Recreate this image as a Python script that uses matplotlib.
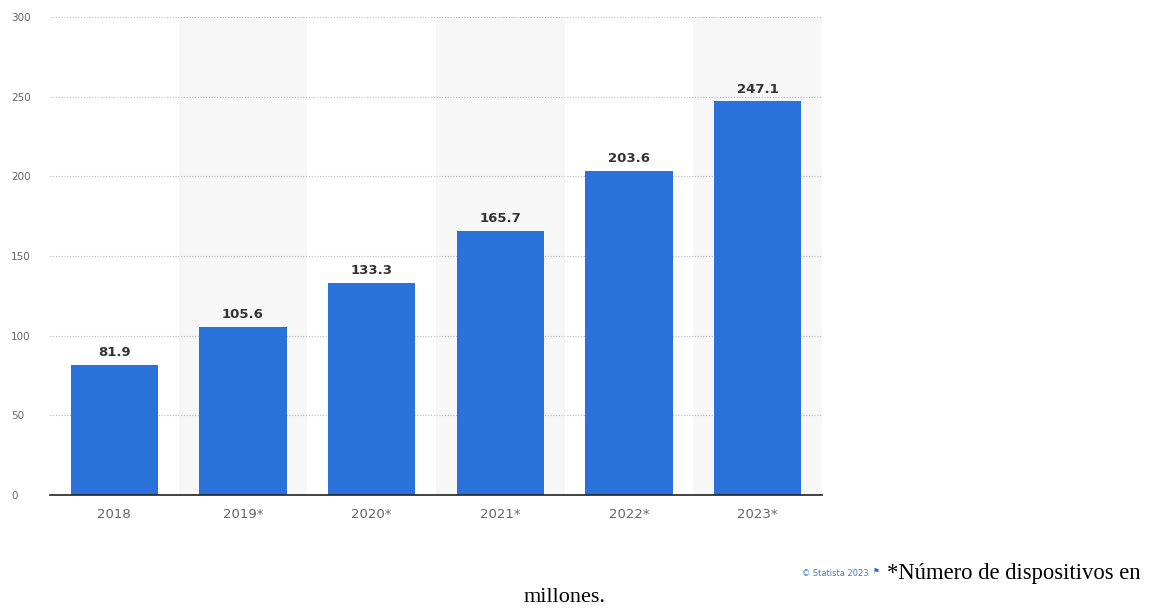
import matplotlib

matplotlib.use('Agg')
import matplotlib.pyplot as plt

years = ['2018', '2019*', '2020*', '2021*', '2022*', '2023*']
devices = [81.9, 105.6, 133.3, 165.7, 203.6, 247.1]
yticks = [0, 50, 100, 150, 200, 250, 300]

bar_color = '#2872d9'
tick_color = '#666666'

fig = plt.figure(figsize=(11.51, 6.09), dpi=100)
ax = fig.add_axes([50 / 1151, 1 - 495 / 609, 772 / 1151, 478 / 609])

x = list(range(len(years)))

# alternating light column bands
for i in x:
    if i % 2 == 1:
        ax.axvspan(i - 0.5, i + 0.5, color='#f7f7f7', zorder=0, lw=0)

bars = ax.bar(x, devices, width=0.68, color=bar_color, zorder=3)
for b, v in zip(bars, devices):
    ax.text(b.get_x() + b.get_width() / 2, v + 3.5, '%.1f' % v, ha='center', va='bottom',
            fontsize=9.5, fontweight='bold', color='#333333', zorder=4)

ax.set_xlim(-0.5, 5.5)
ax.set_ylim(0, 300)
ax.set_yticks(yticks)
ax.set_xticks(x)
ax.set_xticklabels(years)
ax.tick_params(axis='y', length=0, labelsize=7.5, labelcolor=tick_color, pad=28)
ax.tick_params(axis='x', length=0, labelsize=9.5, labelcolor=tick_color, pad=9)
for lbl in ax.get_yticklabels():
    lbl.set_horizontalalignment('left')

ax.grid(axis='y', color='#bbbbbb', linestyle=(0, (1, 1.5)), linewidth=0.8, zorder=1)
for s in ['top', 'right', 'left']:
    ax.spines[s].set_visible(False)
ax.spines['bottom'].set_color('#222222')
ax.spines['bottom'].set_linewidth(1.2)
ax.spines['bottom'].set_zorder(5)

fig.text(802 / 1151, 1 - 574 / 609, '© Statista 2023', fontsize=6, color='#3b7dd8', va='center')
fig.text(873 / 1151, 1 - 572 / 609, '⚑', fontsize=5.5, color='#2a5fc0', va='center')
fig.text(1 - 10 / 1151, 1 - 573 / 609, '*Número de dispositivos en', fontsize=16.3,
         family='Liberation Serif', color='black', ha='right', va='center')
fig.text(565 / 1151, 1 - 597 / 609, 'millones.', fontsize=16,
         family='Liberation Serif', color='black', ha='center', va='center')

fig.savefig('out.png', dpi=100, facecolor='white')
